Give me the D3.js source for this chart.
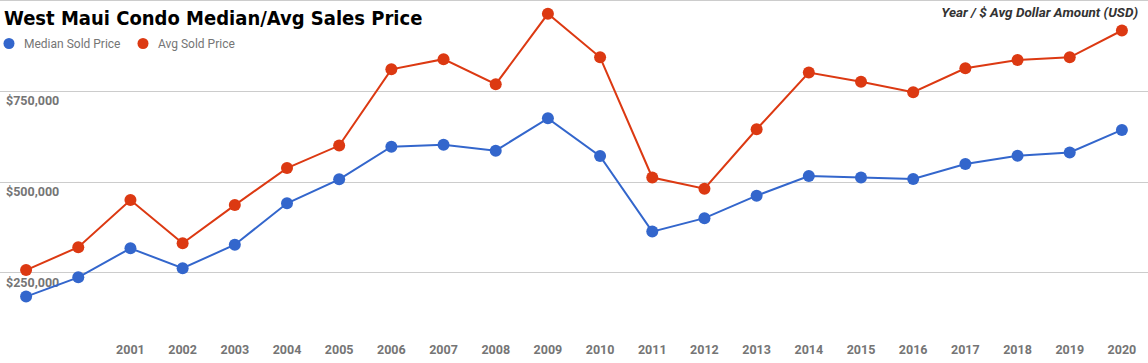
<!DOCTYPE html>
<html>
<head>
<meta charset="utf-8">
<script src="https://cdn.jsdelivr.net/npm/d3@7/dist/d3.min.js"></script>
<style>
  html, body { margin: 0; padding: 0; background: #fff; }
  svg { display: block; }
</style>
</head>
<body>
<svg id="chart" width="1148" height="363"></svg>
<script>
const years = [1999, 2000, 2001, 2002, 2003, 2004, 2005, 2006, 2007, 2008, 2009, 2010,
               2011, 2012, 2013, 2014, 2015, 2016, 2017, 2018, 2019, 2020];
const xTickLabels = ["", "", "2001", "2002", "2003", "2004", "2005", "2006", "2007", "2008", "2009",
                     "2010", "2011", "2012", "2013", "2014", "2015", "2016", "2017", "2018", "2019", "2020"];
const medianSold = [183000, 236000, 316000, 261000, 326000, 440000, 506000, 596000, 601000, 585000, 674000,
                    570000, 362000, 399000, 461000, 515000, 511000, 507000, 548000, 571000, 580000, 642000];
const avgSold = [256000, 319000, 449000, 330000, 435000, 537000, 599000, 809000, 837000, 768000, 962000,
                 842000, 511000, 480000, 644000, 800000, 775000, 746000, 812000, 835000, 842000, 916000];
const yTicks = [250000, 500000, 750000, 1000000];
const yTickLabels = ["$250,000", "$500,000", "$750,000", ""];
const seriesNames = ["Median Sold Price", "Avg Sold Price"];
const colors = ["#3366cc", "#dc3912"];

const W = 1148, H = 363;
const svg = d3.select("#chart");

const x = d3.scalePoint().domain(years).range([0, W]).padding(0.5);
const y = d3.scaleLinear().domain([0, 1000000]).range([H, 0]);

// gridlines
svg.append("g").selectAll("line").data(yTicks).join("line")
  .attr("x1", 0).attr("x2", W)
  .attr("y1", d => Math.round(y(d)) + 0.5).attr("y2", d => Math.round(y(d)) + 0.5)
  .attr("stroke", "#cccccc").attr("stroke-width", 1);

// y labels (inside, below gridline)
svg.append("g").selectAll("text").data(yTicks).join("text")
  .attr("x", 6).attr("y", d => y(d) + 14.5)
  .attr("font-family", "Roboto, sans-serif").attr("font-weight", "bold")
  .attr("font-size", 12.5).attr("fill", "#757575")
  .text((d, i) => yTickLabels[i]);

// x labels
svg.append("g").selectAll("text").data(years).join("text")
  .attr("x", d => x(d)).attr("y", 354)
  .attr("text-anchor", "middle")
  .attr("font-family", "Roboto, sans-serif").attr("font-weight", "bold")
  .attr("font-size", 12.5).attr("fill", "#757575")
  .text((d, i) => xTickLabels[i]);

// series
const series = [medianSold, avgSold];
const line = d3.line().x((d, i) => x(years[i])).y(d => y(d));
series.forEach((vals, s) => {
  svg.append("path").datum(vals)
    .attr("d", line).attr("fill", "none")
    .attr("stroke", colors[s]).attr("stroke-width", 2);
  svg.append("g").selectAll("circle").data(vals).join("circle")
    .attr("cx", (d, i) => x(years[i])).attr("cy", d => y(d))
    .attr("r", 6).attr("fill", colors[s]);
});

// title
svg.append("text").attr("x", 4).attr("y", 25)
  .attr("font-family", "'DejaVu Sans Condensed', 'DejaVu Sans', sans-serif").attr("font-weight", "bold")
  .attr("font-stretch", "condensed")
  .attr("font-size", 20).attr("fill", "#000")
  .text("West Maui Condo Median/Avg Sales Price");

// legend
const legendX = [9, 143];
seriesNames.forEach((name, i) => {
  svg.append("circle").attr("cx", legendX[i]).attr("cy", 43.5).attr("r", 5.5).attr("fill", colors[i]);
  svg.append("text").attr("x", legendX[i] + 15).attr("y", 48)
    .attr("font-family", "Roboto, sans-serif").attr("font-size", 12).attr("fill", "#757575")
    .text(name);
});

// top-right axis title
svg.append("text").attr("x", 1138).attr("y", 17)
  .attr("text-anchor", "end")
  .attr("font-family", "Roboto, sans-serif").attr("font-weight", "bold").attr("font-style", "italic")
  .attr("font-size", 13.5).attr("fill", "#333333")
  .text("Year / $ Avg Dollar Amount (USD)");
</script>
</body>
</html>
